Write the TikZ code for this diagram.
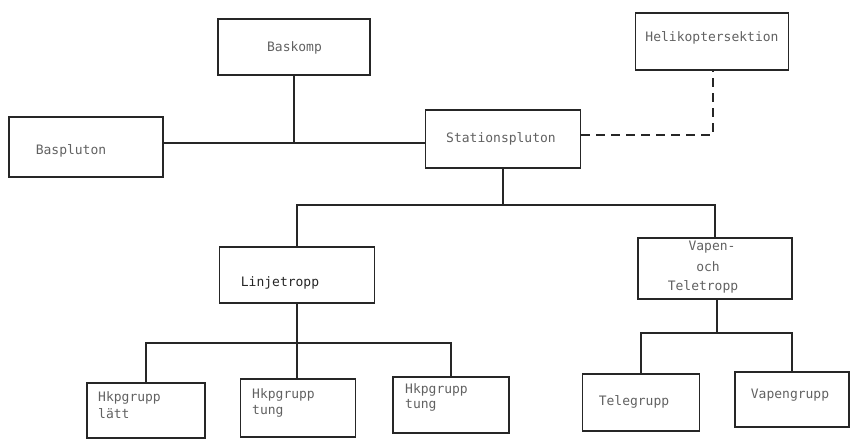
\documentclass[tikz,border=0pt]{standalone}
\usepackage{fontspec}
\setmonofont{DejaVu Sans Mono}
\begin{document}
\begin{tikzpicture}[x=1pt,y=-1pt,
  box/.style={draw=black!85, line width=1.5pt, rectangle, inner sep=0pt},
  lbl/.style={font=\ttfamily\fontsize{13}{15}\selectfont, text=black!62, inner sep=0pt},
  conn/.style={draw=black!85, line width=1.5pt},
  dconn/.style={conn, dash pattern=on 9pt off 6pt}]
\useasboundingbox (0,0) rectangle (850,439);
% boxes
\node[box, minimum width=152pt, minimum height=56pt] (bk) at (294,47) {};
\node[box, minimum width=154pt, minimum height=60pt] (bp) at (86,147) {};
\node[box, minimum width=155pt, minimum height=58pt] (sp) at (503,139) {};
\node[box, minimum width=153pt, minimum height=57pt] (hs) at (712,41.5) {};
\node[box, minimum width=155pt, minimum height=56pt] (lt) at (297,275) {};
\node[box, minimum width=154pt, minimum height=61pt] (vt) at (715,268.5) {};
\node[box, minimum width=118pt, minimum height=55pt] (h1) at (146,410.5) {};
\node[box, minimum width=115pt, minimum height=58pt] (h2) at (298,408) {};
\node[box, minimum width=116pt, minimum height=56pt] (h3) at (451,405) {};
\node[box, minimum width=117pt, minimum height=57pt] (tg) at (641,402.5) {};
\node[box, minimum width=114pt, minimum height=55pt] (vg) at (792,399.5) {};
% labels
\node[lbl] (tbk) at (294.5,48) {Baskomp};
\node[lbl] (tbp) at (71,151) {Baspluton};
\node[lbl] (tsp) at (501,139) {Stationspluton};
\node[lbl] (ths) at (712,38) {Helikoptersektion};
\node[lbl, text=black!85] (tlt) at (280,283) {Linjetropp};
\node[lbl] (tvt1) at (712,247) {Vapen-};
\node[lbl] (tvt2) at (708,267) {och};
\node[lbl] (tvt3) at (703,287) {Teletropp};
\node[lbl, anchor=west] (th1a) at (98,398) {Hkpgrupp};
\node[lbl, anchor=west] (th1b) at (98,414) {lätt};
\node[lbl, anchor=west] (th2a) at (252,395) {Hkpgrupp};
\node[lbl, anchor=west] (th2b) at (252,411) {tung};
\node[lbl, anchor=west] (th3a) at (405,390) {Hkpgrupp};
\node[lbl, anchor=west] (th3b) at (405,405) {tung};
\node[lbl] (ttg) at (634,402) {Telegrupp};
\node[lbl] (tvg) at (790,395) {Vapengrupp};
% connectors
\coordinate (bus1) at (294,143);
\coordinate (bus2) at (504,205);
\coordinate (bus3) at (297,343);
\coordinate (bus4) at (717,333);
\coordinate (dsh) at (713,135);
\draw[conn] (bp.east |- bus1) -- (sp.west |- bus1);
\draw[conn] (bk.south) -- (bus1);
\draw[dconn] (sp.east |- dsh) -- (dsh) -- (dsh |- hs.south);
\draw[conn] (sp.south) -- (sp.south |- bus2);
\draw[conn] (lt.north) -- (lt.north |- bus2) -- (vt.north |- bus2) -- (vt.north);
\draw[conn] (lt.south) -- (lt.south |- h2.north);
\draw[conn] (h1.north) -- (h1.north |- bus3) -- (h3.north |- bus3) -- (h3.north);
\draw[conn] (vt.south -| bus4) -- (bus4);
\draw[conn] (tg.north) -- (tg.north |- bus4) -- (vg.north |- bus4) -- (vg.north);
\end{tikzpicture}
\end{document}
